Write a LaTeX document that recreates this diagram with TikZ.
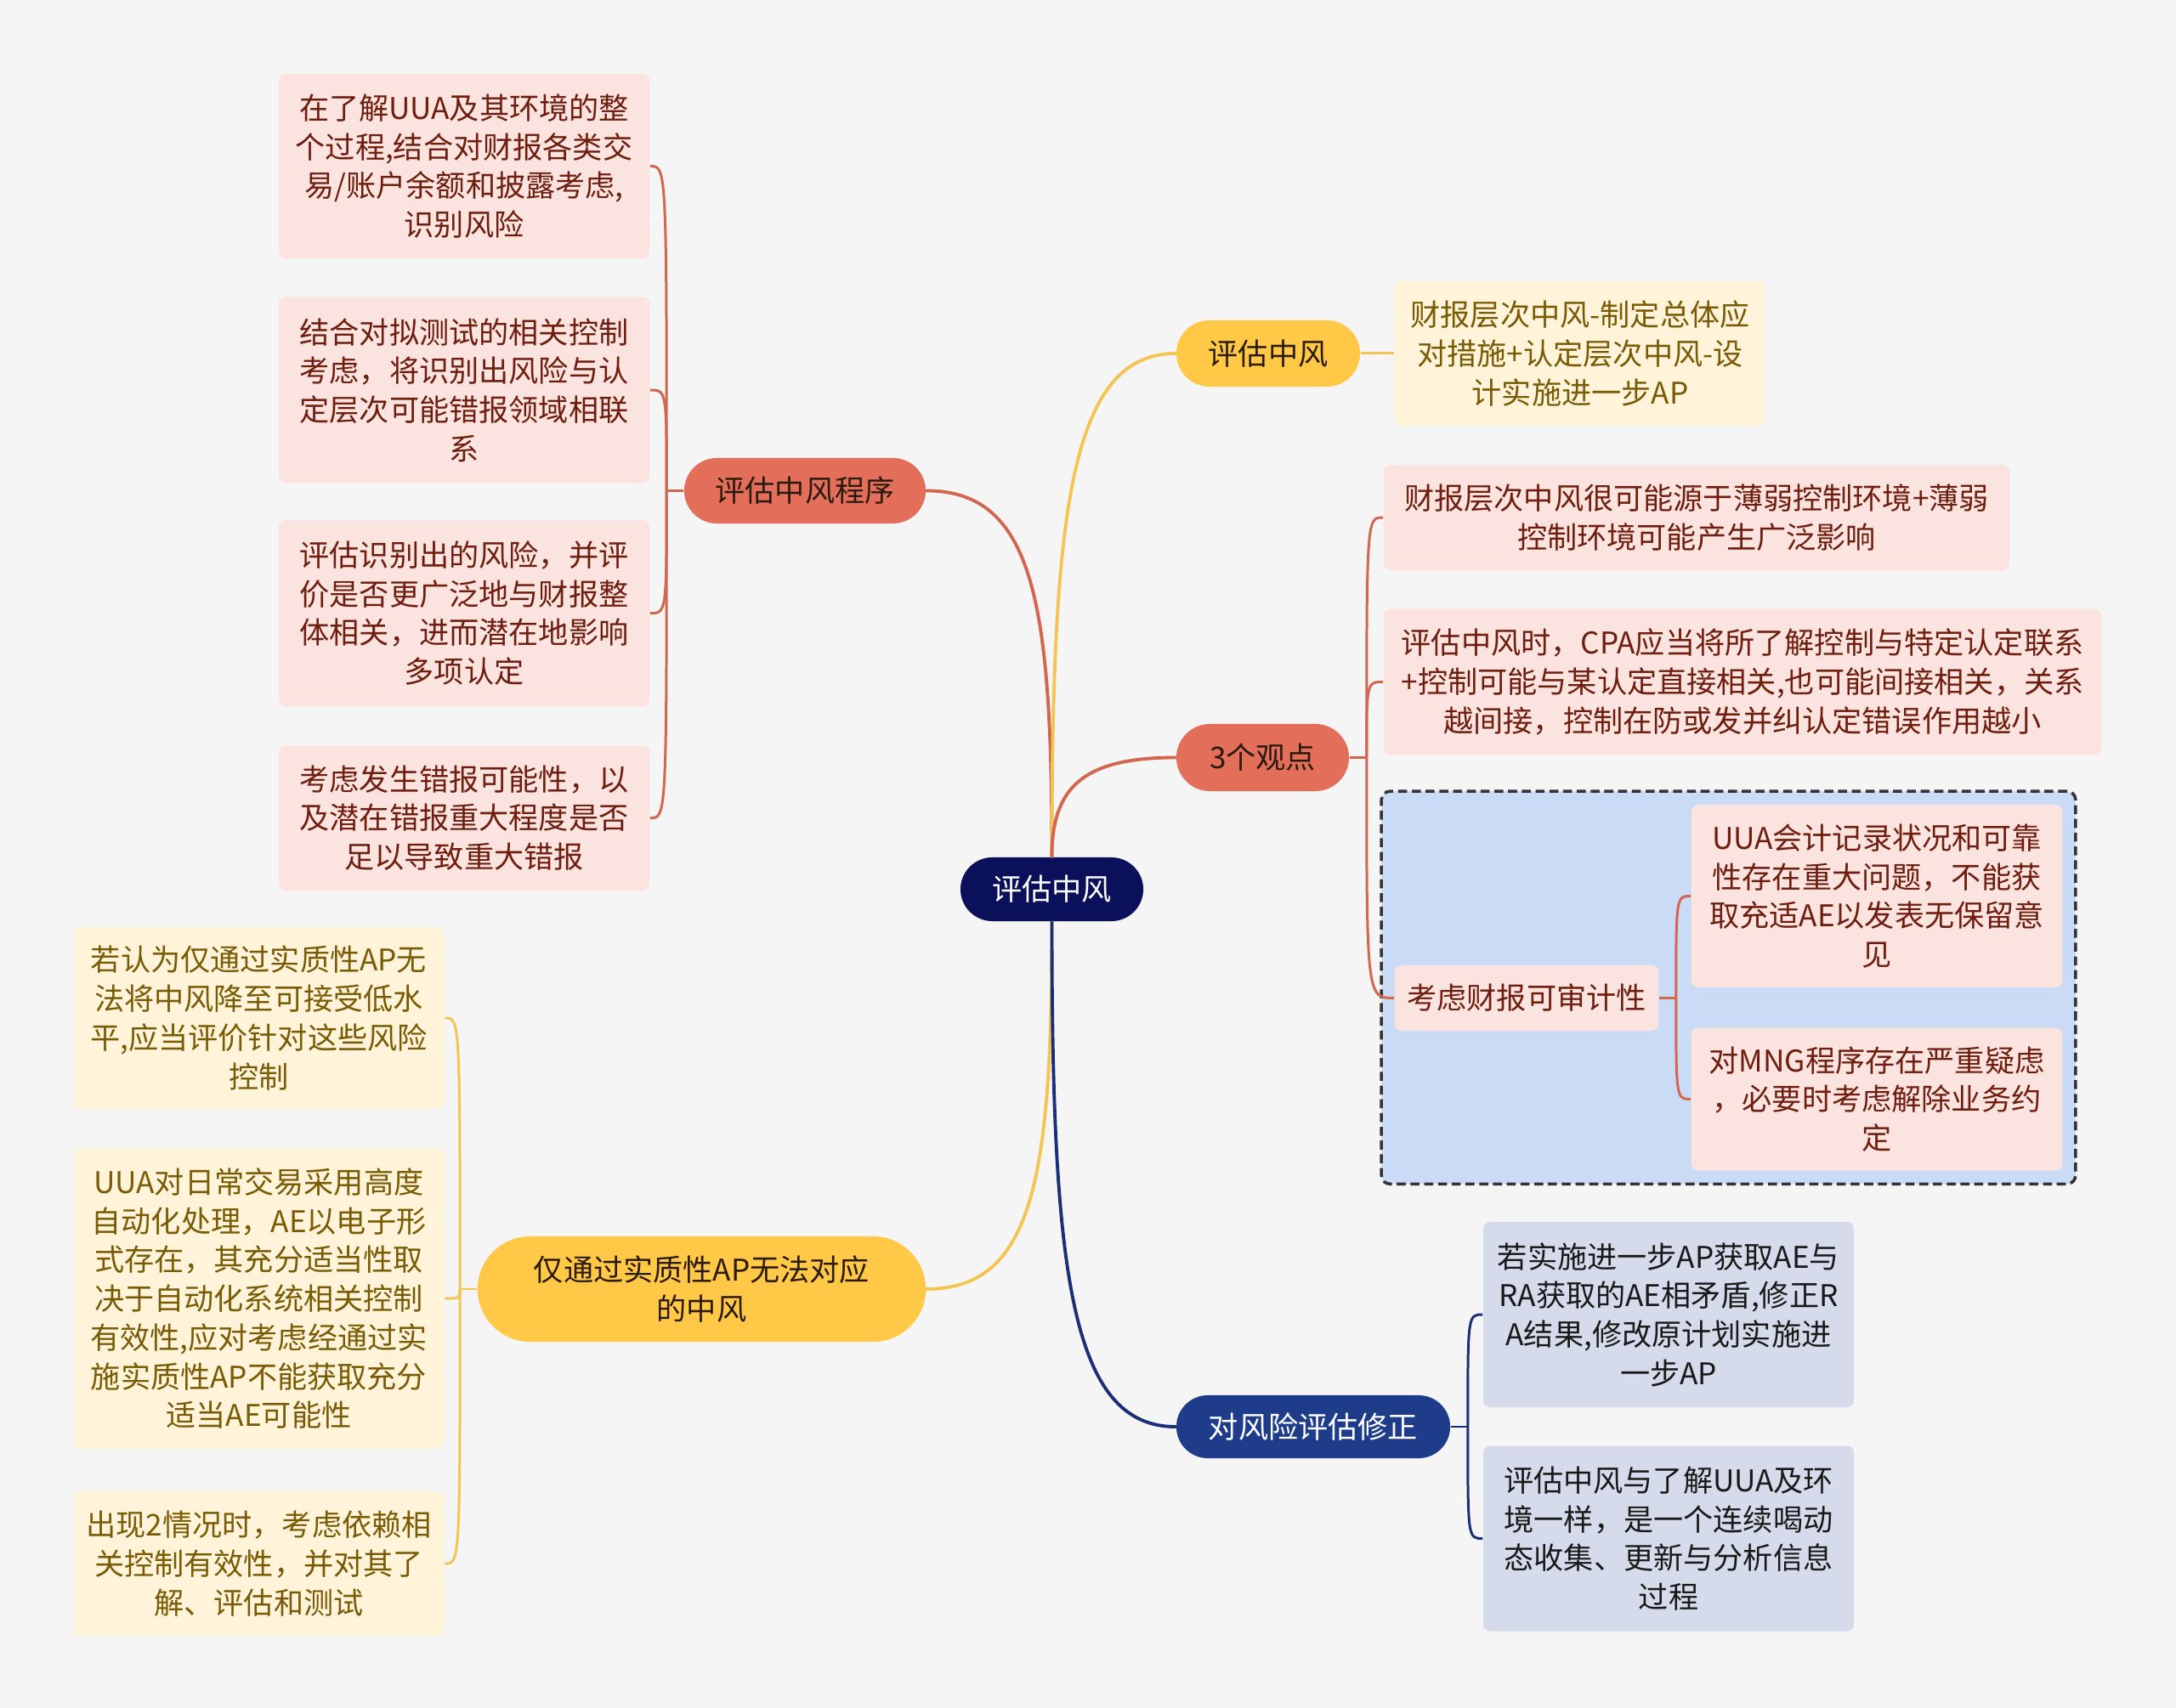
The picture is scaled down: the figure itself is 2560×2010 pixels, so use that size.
\documentclass[tikz,border=0pt]{standalone}
\usepackage{fontspec}
\setmainfont{Noto Sans CJK SC}
\usepackage{xcolor}
\definecolor{cBg}    {HTML}{F5F5F5}
\definecolor{cRoot}  {HTML}{0A105A}
\definecolor{cNavy}  {HTML}{1F3C8A}
\definecolor{cCoral} {HTML}{E36F5B}
\definecolor{cYellow}{HTML}{FFC846}
\definecolor{cPink}  {HTML}{FBE4DF}
\definecolor{cCream} {HTML}{FFF4D9}
\definecolor{cGrey}  {HTML}{D5DBEA}
\definecolor{cBlue}  {HTML}{CADCF5}
\definecolor{lCoral} {HTML}{D2664F}
\definecolor{lYellow}{HTML}{F4C553}
\definecolor{lNavy}  {HTML}{1B2F78}
\definecolor{tRed}   {HTML}{6E1D0E}
\definecolor{tOlive} {HTML}{7A5B05}
\definecolor{tDark}  {HTML}{2B1A10}
\usepackage{tikz}
\usetikzlibrary{shapes.misc, positioning, fit, backgrounds}
\tikzset{
  pill/.style  = {rounded rectangle, inner xsep=0pt, inner ysep=0pt,
                  minimum height=0.76cm, align=center,
                  font=\fontsize{10}{13}\selectfont},
  leaf/.style  = {rectangle, rounded corners=0.08cm, inner xsep=0.12cm,
                  inner ysep=0.1cm, text width=#1, align=center,
                  font=\fontsize{10}{13}\selectfont},
  leaf/.default = 4.12cm,
  main/.style  = {line width=1.1pt, line cap=round},
  brace/.style = {line width=0.85pt},
}

\begin{document}
\begin{tikzpicture}[x=0.01cm, y=-0.01cm]

  \begin{scope}[on background layer]
    \fill[cBg] (0,0) rectangle (2560,2010);
  \end{scope}

  % root and branches
  \node[pill, fill=cRoot, text=white, minimum width=2.15cm,
        minimum height=0.75cm] (root) at (1237.5,1046.5) {评估中风};

  \node[pill, fill=cCoral, text=tDark, minimum width=2.84cm,
        minimum height=0.77cm] (pb) at (947,577.5) {评估中风程序};

  \node[pill, fill=cYellow, text=tDark, minimum width=2.16cm,
        minimum height=0.78cm] (yb) at (1492,416) {评估中风};

  \node[pill, fill=cCoral, text=tDark, minimum width=2.03cm,
        minimum height=0.79cm] (cb) at (1485.5,891.5) {3个观点};

  \node[pill, fill=cNavy, text=white, minimum width=3.22cm,
        minimum height=0.74cm] (nb) at (1545,1679) {对风险评估修正};

  \node[pill, fill=cYellow, text=tDark, minimum width=5.27cm,
        minimum height=1.24cm] (qb) at (825.5,1517)
        {仅通过实质性AP无法对应\\的中风};

  % 评估中风程序
  \node[leaf, fill=cPink, text=tRed, minimum height=2.17cm] (p1) at (546,195.5)
        {在了解UUA及其环境的整\\个过程,结合对财报各类交\\易/账户余额和披露考虑,\\识别风险};
  \node[leaf, fill=cPink, text=tRed, minimum height=2.19cm,
        below=0.44cm of p1] (p2)
        {结合对拟测试的相关控制\\考虑，将识别出风险与认\\定层次可能错报领域相联\\系};
  \node[leaf, fill=cPink, text=tRed, minimum height=2.19cm,
        below=0.42cm of p2] (p3)
        {评估识别出的风险，并评\\价是否更广泛地与财报整\\体相关，进而潜在地影响\\多项认定};
  \node[leaf, fill=cPink, text=tRed, minimum height=1.70cm,
        below=0.45cm of p3] (p4)
        {考虑发生错报可能性，以\\及潜在错报重大程度是否\\足以导致重大错报};

  % 评估中风
  \node[leaf, fill=cCream, text=tOlive, minimum height=1.70cm] (y1) at (1859,416)
        {财报层次中风-制定总体应\\对措施+认定层次中风-设\\计实施进一步AP};

  % 3个观点
  \node[leaf=7.12cm, fill=cPink, text=tRed, minimum height=1.24cm] (o1) at (1996,609)
        {财报层次中风很可能源于薄弱控制环境+薄弱\\控制环境可能产生广泛影响};
  \node[leaf=8.20cm, fill=cPink, text=tRed, minimum height=1.72cm,
        below=0.44cm of o1.south west, anchor=north west] (o2)
        {评估中风时，CPA应当将所了解控制与特定认定联系\\+控制可能与某认定直接相关,也可能间接相关，关系\\越间接，控制在防或发并纠认定错误作用越小};

  \node[leaf=2.86cm, fill=cPink, text=tRed, minimum height=0.77cm] (a0) at (1796,1174.5)
        {考虑财报可审计性};
  \node[leaf, fill=cPink, text=tRed, minimum height=2.15cm] (a1) at (2208,1054.5)
        {UUA会计记录状况和可靠\\性存在重大问题，不能获\\取充适AE以发表无保留意\\见};
  \node[leaf, fill=cPink, text=tRed, minimum height=1.68cm,
        below=0.46cm of a1] (a2)
        {对MNG程序存在严重疑虑\\，必要时考虑解除业务约\\定};

  \begin{scope}[on background layer]
    \node[draw=black!80, dashed, dash pattern=on 3pt off 1.6pt, line width=1pt,
          fill=cBlue, rounded corners=0.1cm, inner sep=0.15cm,
          fit=(a0)(a1)(a2)] (box) {};
  \end{scope}

  % 对风险评估修正
  \node[leaf, fill=cGrey, text=black!90, minimum height=2.18cm] (n1) at (1963,1547)
        {若实施进一步AP获取AE与\\RA获取的AE相矛盾,修正R\\A结果,修改原计划实施进\\一步AP};
  \node[leaf, fill=cGrey, text=black!90, minimum height=2.18cm,
        below=0.44cm of n1] (n2)
        {评估中风与了解UUA及环\\境一样，是一个连续喝动\\态收集、更新与分析信息\\过程};

  % 仅通过实质性AP无法对应的中风
  \node[leaf, fill=cCream, text=tOlive, minimum height=2.14cm] (q1) at (304.5,1198)
        {若认为仅通过实质性AP无\\法将中风降至可接受低水\\平,应当评价针对这些风险\\控制};
  \node[leaf, fill=cCream, text=tOlive, minimum height=3.53cm,
        below=0.45cm of q1] (q2)
        {UUA对日常交易采用高度\\自动化处理，AE以电子形\\式存在，其充分适当性取\\决于自动化系统相关控制\\有效性,应对考虑经通过实\\施实质性AP不能获取充分\\适当AE可能性};
  \node[leaf, fill=cCream, text=tOlive, minimum height=1.70cm,
        below=0.49cm of q2] (q3)
        {出现2情况时，考虑依赖相\\关控制有效性，并对其了\\解、评估和测试};

  % root to branches
  \draw[main, lCoral]  (root.north) .. controls +(0,-297) and +(127,0) .. (pb.east);
  \draw[main, lYellow] (root.north) .. controls +(0,-408) and +(-124,0) .. (yb.west);
  \draw[main, lCoral]  (root.north) .. controls +(0,-81) and +(-110,0) .. (cb.west);
  \draw[main, lYellow] (root.south) .. controls +(0,299) and +(127,0) .. (qb.east);
  \draw[main, lNavy]   (root.south) .. controls +(0,411) and +(-124,0) .. (nb.west);

  % branches to leaves
  \draw[brace, lCoral] (pb.west) -- ++(-20,0) coordinate (pj);
  \foreach \c in {p1,p2,p3,p4}
    \draw[brace, lCoral] (pj) .. controls (pj |- \c.east) .. (\c.east);

  \draw[brace, lYellow] (yb.east) -- (y1.west);

  \draw[brace, lCoral] (cb.east) -- ++(20,0) coordinate (cj);
  \foreach \c in {o1,o2,a0}
    \draw[brace, lCoral] (cj) .. controls (cj |- \c.west) .. (\c.west);

  \draw[brace, lCoral] (a0.east) -- ++(20,0) coordinate (aj);
  \foreach \c in {a1,a2}
    \draw[brace, lCoral] (aj) .. controls (aj |- \c.west) .. (\c.west);

  \draw[brace, lNavy] (nb.east) -- ++(20,0) coordinate (nj);
  \foreach \c in {n1,n2}
    \draw[brace, lNavy] (nj) .. controls (nj |- \c.west) .. (\c.west);

  \draw[brace, lYellow] (qb.west) -- ++(-20,0) coordinate (qj);
  \foreach \c in {q1,q2,q3}
    \draw[brace, lYellow] (qj) .. controls (qj |- \c.east) .. (\c.east);

\end{tikzpicture}
\end{document}
